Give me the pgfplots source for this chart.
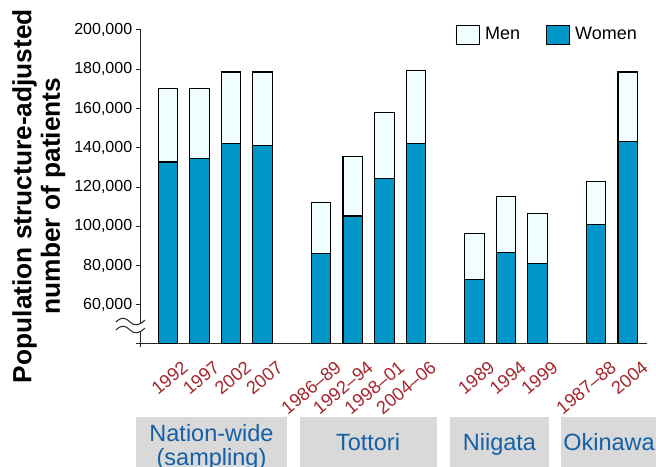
\documentclass[border=0pt]{standalone}
\usepackage{fontspec}
\setmainfont{Liberation Sans}
\usepackage{pgfplots}
\pgfplotsset{compat=1.18}
\definecolor{womenblue}{RGB}{0,150,200}
\definecolor{menfill}{RGB}{240,254,255}
\definecolor{labred}{RGB}{165,38,44}
\definecolor{grpblue}{RGB}{20,95,165}
\definecolor{grpgray}{RGB}{217,217,217}
\pgfplotstableread{
x      women   men
0      132800  37200
1      134800  35500
2      142300  36300
3      141300  37300
4.85   86300   26000
5.85   105300  30400
6.85   124500  33600
7.85   142100  37200
9.7    73100   23400
10.7   86800   28300
11.7   80900   25600
13.55  100900  22200
14.55  143300  35300
}\datatable
\begin{document}
\begin{tikzpicture}[x=1pt,y=1pt]
\useasboundingbox (0,0) rectangle (656,466);
\clip (0,0) rectangle (656,466);
% group boxes
\fill[grpgray] (136,-10) rectangle (287,48.7);
\fill[grpgray] (300,-10) rectangle (436.7,48.7);
\fill[grpgray] (450,-10) rectangle (549,48.7);
\fill[grpgray] (560.7,-10) rectangle (660,48.7);
\begin{scope}[every node/.style={font=\fontsize{23.5}{26}\selectfont, text=grpblue, inner sep=0pt, anchor=base}]
\node at (211.5,24.3) {Nation-wide};
\node at (211.5,0.5) {(sampling)};
\node at (368,15.3) {Tottori};
\node at (499.5,15.3) {Niigata};
\node at (609,15.3) {Okinawa};
\end{scope}
% y label
\node[rotate=90, align=center, inner sep=0pt, font=\fontsize{26.3}{28.5}\selectfont\bfseries] at (38.7,270) {Population structure-adjusted\\number of patients};
\begin{axis}[
  at={(140.7pt,122.7pt)}, anchor=south west,
  scale only axis, width=506pt, height=313.3pt,
  xmin=-0.858, xmax=15.15, ymin=40500, ymax=200000,
  axis lines=left,
  axis line style={-, line width=1.1pt, black!85},
  ybar stacked, bar width=0.617,
  xtick={0,1,2,3,4.85,5.85,6.85,7.85,9.7,10.7,11.7,13.55,14.55},
  xticklabels={1992,1997,2002,2007,1986--89,1992--94,1998--01,2004--06,1989,1994,1999,1987--88,2004},
  x tick label style={rotate=40, anchor=north east, inner sep=0pt,
     font=\fontsize{18.3}{19}\selectfont, text=labred, xshift=3pt, yshift=-17pt},
  xtick style={draw=none},
  ytick={60000,80000,100000,120000,140000,160000,180000,200000},
  scaled y ticks=false,
  y tick label style={font=\fontsize{16}{18}\selectfont,
     /pgf/number format/.cd, 1000 sep={,}, fixed, assume math mode=true},
  ytick style={line width=1pt, black!85},
  tick align=outside, major tick length=5pt,
  legend style={at={(0.804,0.9856)}, anchor=center, draw=none, fill=none,
     font=\fontsize{18}{20}\selectfont, legend columns=2,
     /tikz/every odd column/.append style={column sep=3pt},
     /tikz/every even column/.append style={column sep=24pt}},
  reverse legend,
]
\addplot[fill=womenblue, draw=black, line width=1.1pt,
  legend image code/.code={\draw[fill=womenblue, draw=black, line width=1pt] (0pt,-9.5pt) rectangle (23pt,9.5pt);}]
  table[x=x, y=women] {\datatable};
\addlegendentry{Women}
\addplot[fill=menfill, draw=black, line width=1.1pt,
  legend image code/.code={\draw[fill=menfill, draw=black, line width=1pt] (0pt,-9.5pt) rectangle (23pt,9.5pt);}]
  table[x=x, y=men] {\datatable};
\addlegendentry{Men}
\end{axis}
% small axis extensions at the corner
\draw[line width=1.1pt, black!85] (140.7,122.7) -- (140.7,118.5);
\draw[line width=1.1pt, black!85] (136,122.7) -- (140.7,122.7);
% axis break squiggle
\fill[white] (116,144) .. controls (122,150) and (126,148) .. (130,144) .. controls (134,140) and (139,140) .. (145,146)
  -- (145,138) .. controls (139,132) and (134,132) .. (130,136) .. controls (126,140) and (122,142) .. (116,136) -- cycle;
\draw[line width=1pt, black!85] (116,144) .. controls (122,150) and (126,148) .. (130,144) .. controls (134,140) and (139,140) .. (145,146);
\draw[line width=1pt, black!85] (116,136) .. controls (122,142) and (126,140) .. (130,136) .. controls (134,132) and (139,132) .. (145,138);
\end{tikzpicture}
\end{document}
